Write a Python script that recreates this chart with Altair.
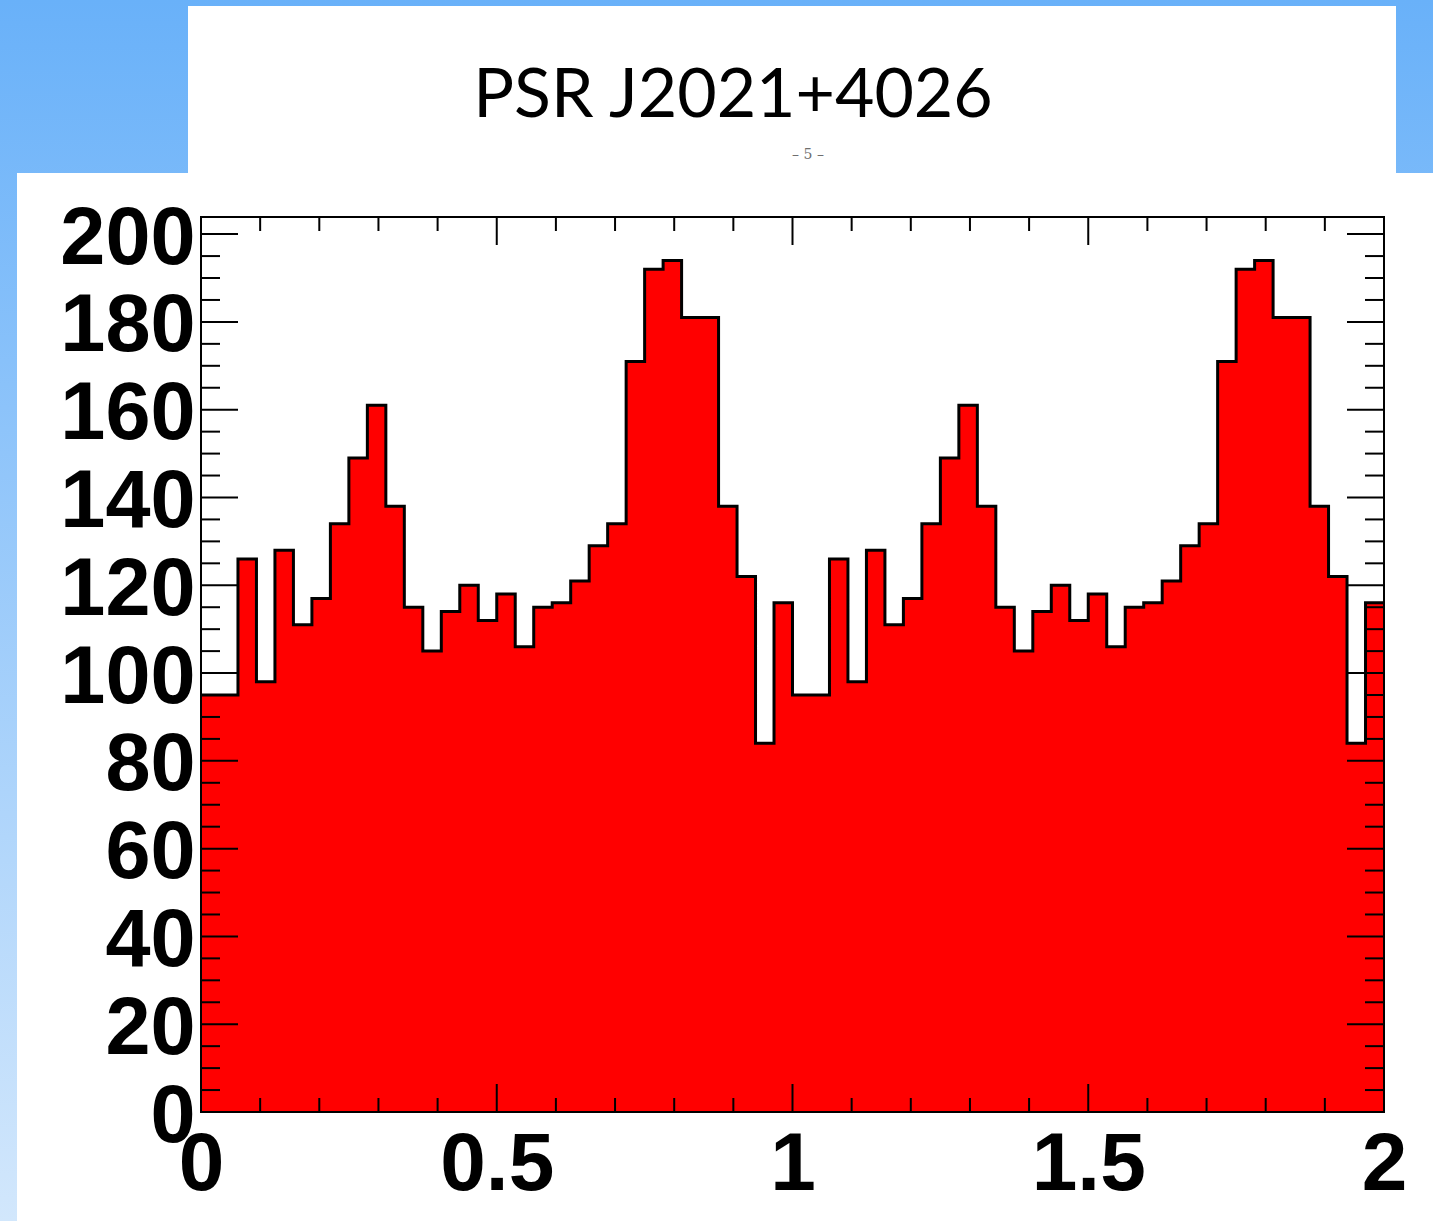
import altair as alt
import pandas as pd

# ---- data (counts per phase bin, 32 bins per rotation) ----
counts_one_cycle = [95, 95, 126, 98, 128, 111, 117, 134, 149, 161, 138, 115, 105, 114, 120, 112,
                    118, 106, 115, 116, 121, 129, 134, 171, 192, 194, 181, 181, 138, 122, 84, 116]
n_cycles = 2
title_text = "PSR J2021+4026"
page_mark = "\u2013 5 \u2013"
x_tick_labels = [0, 0.5, 1, 1.5, 2]
y_tick_labels = [0, 20, 40, 60, 80, 100, 120, 140, 160, 180, 200]
x_minor = [round(0.1 * i, 1) for i in range(1, 20) if i % 5 != 0]
y_minor = [v for v in range(5, 201, 5) if v % 20 != 0]

counts = counts_one_cycle * n_cycles
nbins = len(counts)
phase_max = float(n_cycles)
edges = [phase_max * i / nbins for i in range(nbins)]
hist = pd.DataFrame({"phase": edges + [phase_max], "count": counts + [counts[-1]]})

W, H = 1183, 895
PADL, PADT, PADR, PADB = 201, 217, 49, 109
YMAX = 203.9

xs = alt.Scale(domain=[0, phase_max], nice=False, zero=False)
ys = alt.Scale(domain=[0, YMAX], nice=False, zero=True)

x_axis = alt.Axis(values=x_tick_labels, format="~g", title=None, grid=False, domain=False,
                  ticks=False, tickSize=0, labelFont="Liberation Sans", labelFontWeight="bold",
                  labelFontSize=82, labelColor="black", labelPadding=12, labelFlush=False,
                  labelOverlap=False, zindex=1)
y_axis = alt.Axis(values=y_tick_labels, format="d", title=None, grid=False, domain=False,
                  ticks=False, tickSize=0, labelFont="Liberation Sans", labelFontWeight="bold",
                  labelFontSize=81, labelColor="black", labelPadding=6, labelOffset=5,
                  labelOverlap=False, zindex=1)

one = pd.DataFrame({"a": [0]})

# ---- decoration: slide background and panels ----
bg = alt.Chart(one).mark_rect(
    color=alt.Gradient(gradient="linear",
                       stops=[alt.GradientStop(color="#69b1f9", offset=0),
                              alt.GradientStop(color="#d2e7fc", offset=1)],
                       x1=0, x2=0, y1=0, y2=1)
).encode(x=alt.value(-PADL), x2=alt.value(W + PADR), y=alt.value(-PADT), y2=alt.value(H + PADB))

top_panel = alt.Chart(one).mark_rect(color="white").encode(
    x=alt.value(188 - PADL), x2=alt.value(1396 - PADL), y=alt.value(6 - PADT), y2=alt.value(174 - PADT))
low_panel = alt.Chart(one).mark_rect(color="white").encode(
    x=alt.value(17 - PADL), x2=alt.value(W + PADR), y=alt.value(173 - PADT), y2=alt.value(H + PADB))

title = alt.Chart(one).mark_text(text=title_text, font="Lato", fontSize=68, color="black",
                                 align="center", baseline="alphabetic").encode(
    x=alt.value(733 - PADL), y=alt.value(117 - PADT))
pagenum = alt.Chart(one).mark_text(text=page_mark, font="DejaVu Serif", fontSize=14, color="#6e6e6e",
                                   align="center", baseline="middle").encode(
    x=alt.value(808 - PADL), y=alt.value(155 - PADT))

# ---- histogram ----
area = alt.Chart(hist).mark_area(interpolate="step-after", color="#ff0000").encode(
    x=alt.X("phase:Q", scale=xs, axis=x_axis),
    y=alt.Y("count:Q", scale=ys, axis=y_axis))
outline = alt.Chart(hist).mark_line(interpolate="step-after", color="black", strokeWidth=3).encode(
    x=alt.X("phase:Q", scale=xs, axis=x_axis),
    y=alt.Y("count:Q", scale=ys, axis=y_axis))

# ---- ROOT-style inner ticks on all four sides ----
ymaj = pd.DataFrame({"v": y_tick_labels})
ymin = pd.DataFrame({"v": y_minor})
xmaj = pd.DataFrame({"v": x_tick_labels})
xmin = pd.DataFrame({"v": x_minor})

def yrule(df, x0, x1):
    return alt.Chart(df).mark_rule(color="black", strokeWidth=2).encode(
        y=alt.Y("v:Q", scale=ys, axis=y_axis), x=alt.value(x0), x2=alt.value(x1))

def xrule(df, y0, y1):
    return alt.Chart(df).mark_rule(color="black", strokeWidth=2).encode(
        x=alt.X("v:Q", scale=xs, axis=x_axis), y=alt.value(y0), y2=alt.value(y1))

MAJ_Y, MIN_Y = 37, 19
MAJ_X, MIN_X = 28, 14
ticks = [
    yrule(ymaj, 0, MAJ_Y), yrule(ymin, 0, MIN_Y),
    yrule(ymaj, W - MAJ_Y, W), yrule(ymin, W - MIN_Y, W),
    xrule(xmaj, H - MAJ_X, H), xrule(xmin, H - MIN_X, H),
    xrule(xmaj, 0, MAJ_X), xrule(xmin, 0, MIN_X),
]

frame = alt.Chart(one).mark_rect(filled=False, stroke="black", strokeWidth=2).encode(
    x=alt.value(0), x2=alt.value(W), y=alt.value(0), y2=alt.value(H))

chart = alt.layer(bg, top_panel, low_panel, title, pagenum, area, outline, *ticks, frame).properties(
    width=W, height=H,
    autosize=alt.AutoSizeParams(type="none"),
    padding={"left": PADL, "top": PADT, "right": PADR, "bottom": PADB},
).configure(background="#69b1f9").configure_view(stroke=None)

chart.save("out.html", embed_options={"renderer": "svg", "actions": False})
